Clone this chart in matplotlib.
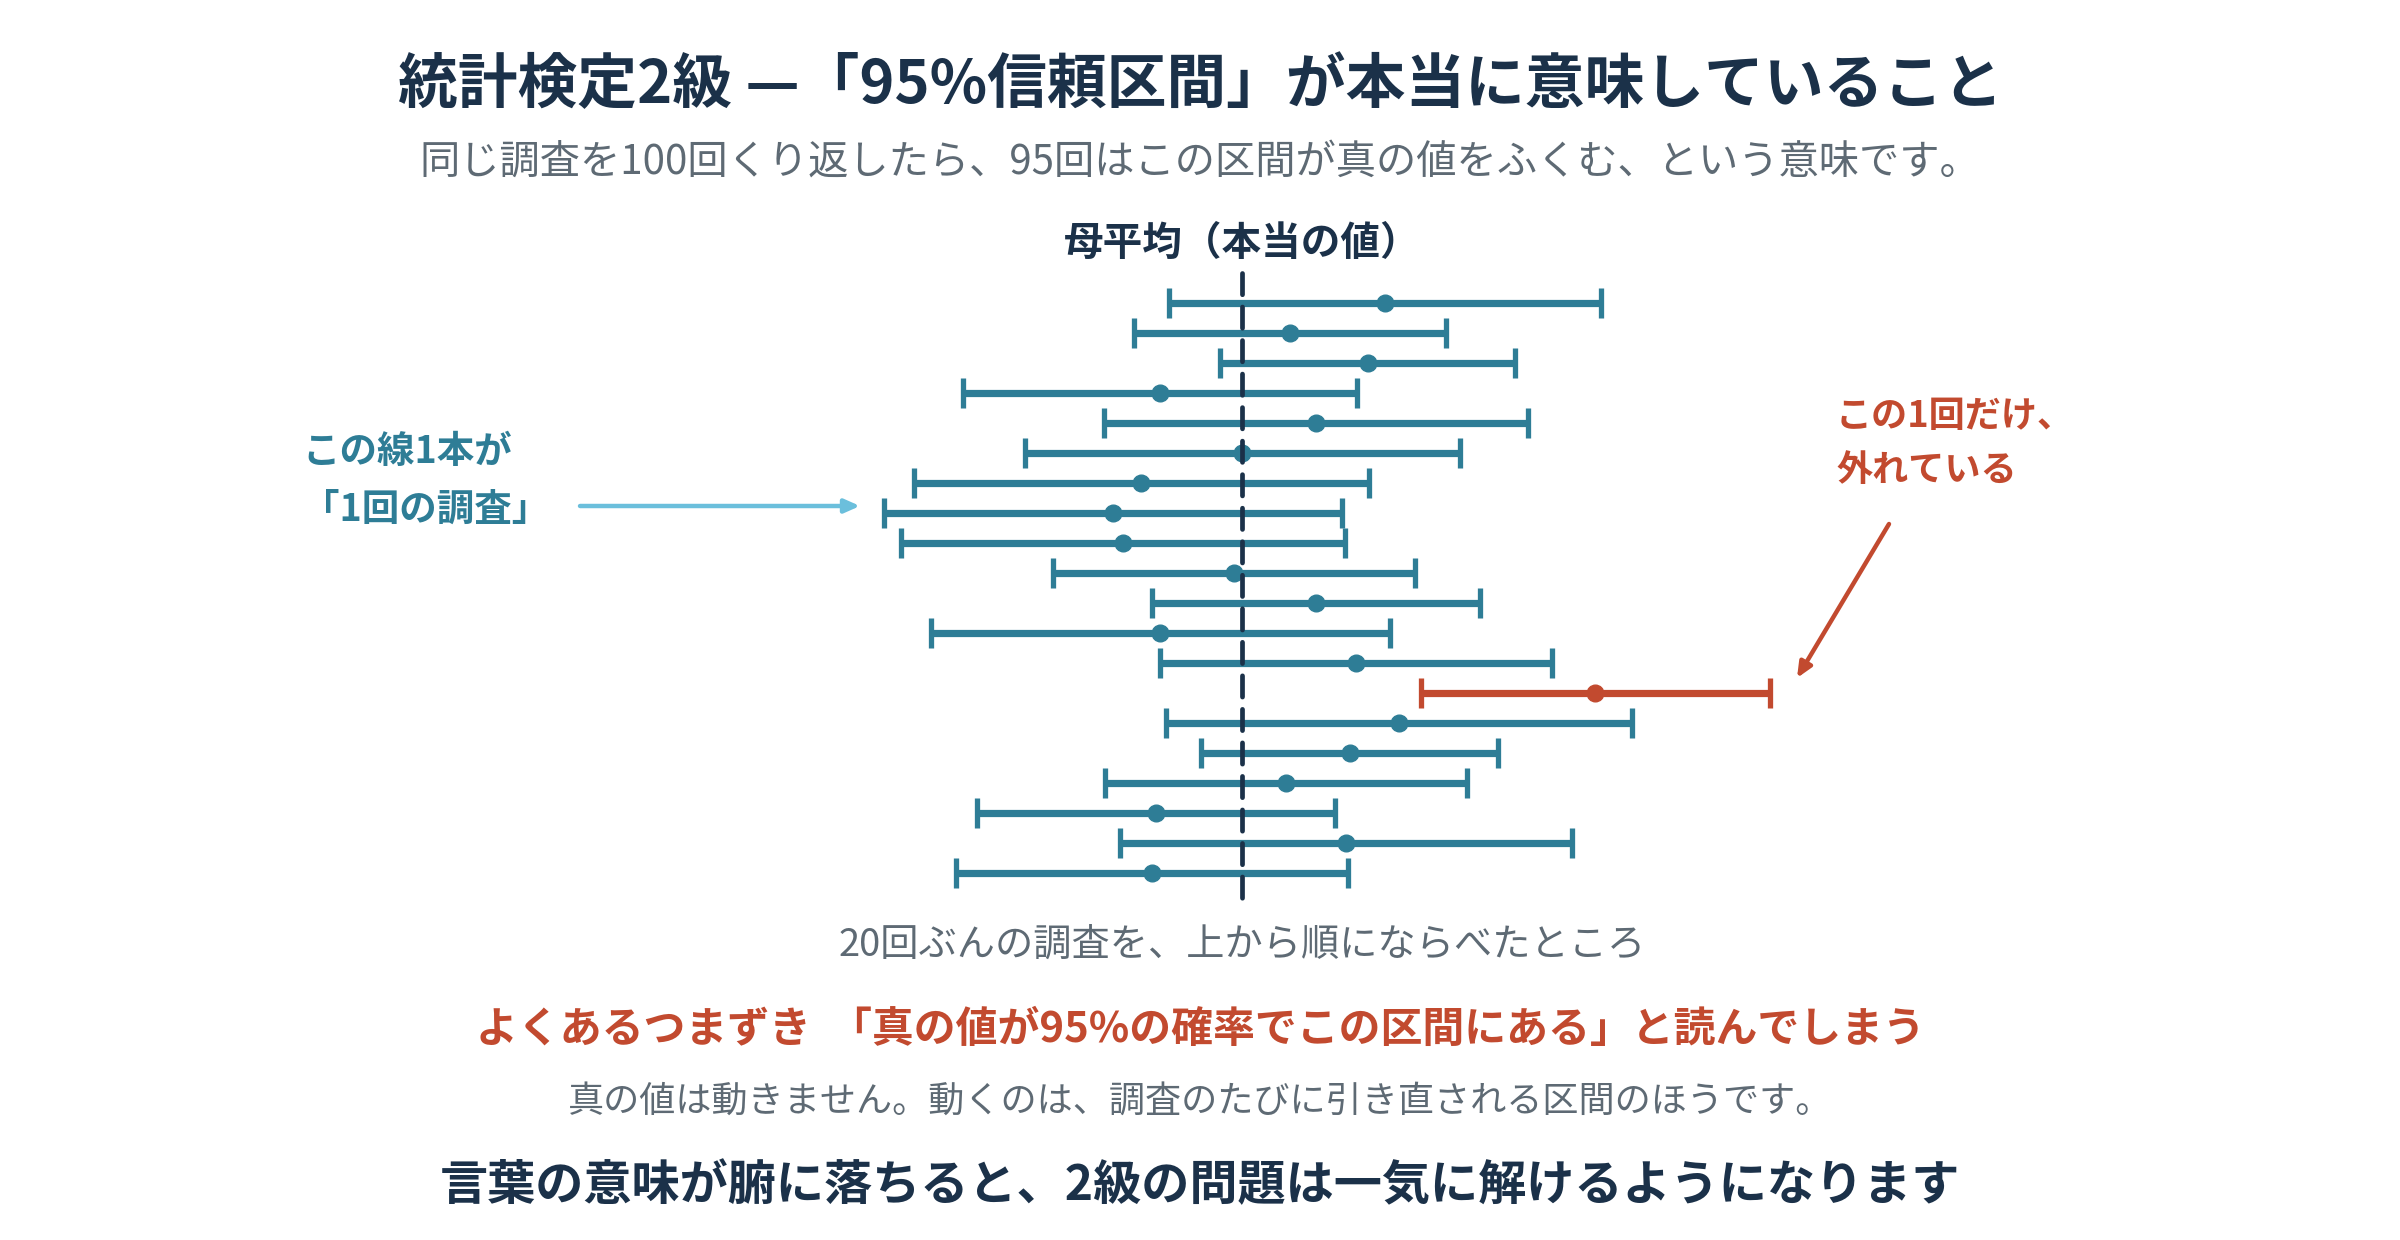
import numpy as np
import matplotlib
matplotlib.use("Agg")
import matplotlib.pyplot as plt

plt.rcParams['font.family'] = ['Noto Sans CJK JP', 'DejaVu Sans']

# 20回分の調査：標本平均と区間の半幅（母平均 = 0）
vtMean = np.array([1.43, 0.48, 1.255, -0.82, 0.74, 0.0, -1.01, -1.295, -1.19, -0.08,
                   0.74, -0.82, 1.14, 3.53, 1.57, 1.075, 0.44, -0.86, 1.035, -0.90])
vtHalf = np.array([2.16, 1.56, 1.475, 1.97, 2.12, 2.175, 2.275, 2.29, 2.22, 1.81,
                   1.64, 2.295, 1.96, 1.745, 2.33, 1.485, 1.81, 1.79, 2.26, 1.96])
dMu = 0.0
vtRow = np.arange(len(vtMean))

cNavy = '#1b3149'
cTeal = '#2e7d96'
cRed = '#c24a2f'
cGrey = '#5e6a74'
cLight = '#6bbfdc'

fig = plt.figure(figsize=(24, 12.4), dpi=100)
ax = fig.add_axes([0, 0, 1, 1])
ax.set_xlim(-12.42, 11.58)
ax.set_ylim(31.22, -10.11)
ax.axis('off')

# 区間が母平均を含むかどうか
vtMiss = (vtMean - vtHalf > dMu) | (vtMean + vtHalf < dMu)

for bMiss, cor in [(False, cTeal), (True, cRed)]:
    idx = vtMiss == bMiss
    ax.errorbar(vtMean[idx], vtRow[idx], xerr=vtHalf[idx], fmt='o', color=cor,
                ms=12, elinewidth=5.2, capsize=10.5, capthick=3.8, zorder=2)

# 母平均の破線
ax.vlines(dMu, -1, len(vtMean), colors=cNavy, linewidth=3.4,
          linestyles=(0, (4.5, 2.6)), capstyle='round', zorder=3)
ax.text(dMu, -2.0, '母平均（本当の値）', ha='center', va='center',
        fontsize=28.5, fontweight='bold', color=cNavy)
ax.text(dMu, 21.4, '20回ぶんの調査を、上から順にならべたところ', ha='center', va='center',
        fontsize=27.5, color=cGrey)

def fy(p):
    return 1 - p / 1240

# タイトルなど
fig.text(0.5, fy(86), '統計検定2級 —「95%信頼区間」が本当に意味していること',
         ha='center', va='center', fontsize=43, fontweight='bold', color=cNavy)
fig.text(0.5, fy(162), '同じ調査を100回くり返したら、95回はこの区間が真の値をふくむ、という意味です。',
         ha='center', va='center', fontsize=29, color=cGrey)

# 左の注釈
fig.text(302 / 2400, fy(451), 'この線1本が', ha='left', va='center',
         fontsize=27, fontweight='bold', color=cTeal)
fig.text(302 / 2400, fy(509), '「1回の調査」', ha='left', va='center',
         fontsize=27, fontweight='bold', color=cTeal)
ax.annotate('', xy=(860, 1240 - 506), xytext=(580, 1240 - 506),
            xycoords='figure pixels', textcoords='figure pixels',
            arrowprops=dict(arrowstyle='-|>,head_length=0.9,head_width=0.4',
                            color=cLight, lw=3.2, shrinkA=0, shrinkB=0,
                            capstyle='round'))

# 右の注釈
fig.text(1836 / 2400, fy(416), 'この1回だけ、', ha='left', va='center',
         fontsize=26, fontweight='bold', color=cRed)
fig.text(1836 / 2400, fy(471), '外れている', ha='left', va='center',
         fontsize=26, fontweight='bold', color=cRed)
ax.annotate('', xy=(1797, 1240 - 678), xytext=(1889, 1240 - 524),
            xycoords='figure pixels', textcoords='figure pixels',
            arrowprops=dict(arrowstyle='-|>,head_length=0.9,head_width=0.4',
                            color=cRed, lw=3.2, shrinkA=0, shrinkB=0))

# 下の説明
fig.text(0.5, fy(1030), 'よくあるつまずき  「真の値が95%の確率でこの区間にある」と読んでしまう',
         ha='center', va='center', fontsize=30.2, fontweight='bold', color=cRed)
fig.text(0.5, fy(1102), '真の値は動きません。動くのは、調査のたびに引き直される区間のほうです。',
         ha='center', va='center', fontsize=26, color=cGrey)
fig.text(0.5, fy(1186), '言葉の意味が腑に落ちると、2級の問題は一気に解けるようになります',
         ha='center', va='center', fontsize=34.7, fontweight='bold', color=cNavy)

fig.savefig('out.png', dpi=100, facecolor='white')
